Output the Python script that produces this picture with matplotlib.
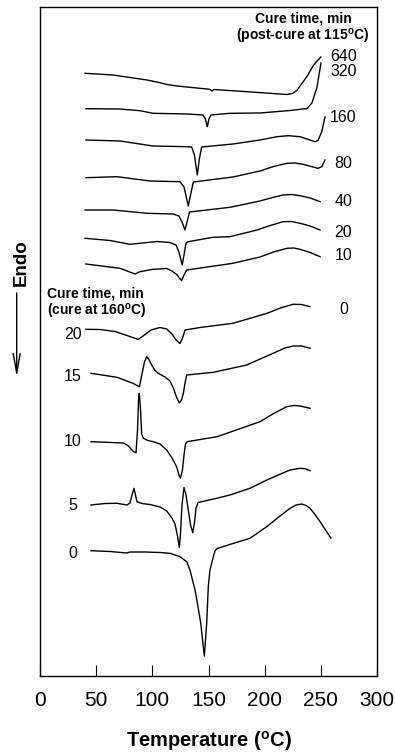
import matplotlib
matplotlib.use("Agg")
import matplotlib.pyplot as plt

plt.rcParams['font.family'] = ['Liberation Sans', 'DejaVu Sans']
plt.rcParams['mathtext.fontset'] = 'custom'
plt.rcParams['mathtext.rm'] = 'Liberation Sans'
plt.rcParams['mathtext.bf'] = 'Liberation Sans:bold'

# ---------------- data (temperature in degC, signal in arbitrary offset units) ----------------
# post-cure at 115 C series
temp_640 = [40.1, 65.0, 95.3, 106.8, 113.1, 122.0, 151.3, 153.1, 154.9, 184.3, 219.9, 225.2, 229.0, 234.1, 238.5, 243.0, 247.5, 250.1]
sig_640 = [602.7, 601, 596, 593.3, 591.5, 590, 586.7, 585, 586.5, 584.3, 581.5, 582.7, 586, 594, 601, 610, 616, 619]

temp_320 = [40.9, 71.2, 89.0, 100.6, 130.9, 145.1, 147.3, 148.9, 150.4, 152.2, 169.1, 195.8, 222.6, 237.7, 242.1, 246.6, 250.1]
sig_320 = [567.3, 567, 565.3, 562.7, 562, 561, 557, 549.3, 557, 561, 562.7, 563, 565.5, 567.5, 573, 589, 613]

temp_160 = [40.9, 71.2, 100.6, 130.9, 135.0, 137.5, 140.0, 142.0, 143.9, 171.8, 195.8, 211.0, 221.0, 231.5, 244.8, 247.5, 250.8, 253.7]
sig_160 = [536, 535, 530, 529.3, 529, 521, 501, 518, 529, 532, 536, 539.3, 540.3, 539.3, 534.3, 535.5, 544.3, 559]

temp_80 = [40.9, 68.5, 97.9, 124.6, 128.2, 130.4, 132.0, 134.0, 136.5, 171.8, 195.8, 208.0, 219.9, 227.0, 234.1, 247.5, 250.8, 253.7]
sig_80 = [498.3, 499.3, 495, 494.3, 489, 478, 470, 481, 494, 499, 505, 509.5, 512.7, 513, 511.7, 507.7, 509.3, 516]

temp_40 = [40.1, 65.0, 95.3, 118.4, 123.7, 126.4, 129.1, 130.9, 133.1, 169.1, 195.8, 207.0, 216.3, 224.0, 231.5, 240.5, 249.3]
sig_40 = [466, 466, 462.7, 462, 460, 454, 446, 454, 464, 468.7, 475, 478.5, 481, 481.5, 480.3, 478, 474.3]

temp_20 = [40.1, 62.3, 80.1, 104.2, 115.7, 121.1, 123.7, 126.6, 128.2, 130.0, 132.0, 154.0, 169.1, 193.2, 205.0, 216.3, 224.0, 231.5, 240.5, 249.3]
sig_20 = [437.7, 435.5, 431.7, 434.5, 433.5, 431, 424, 411, 421, 433, 434.3, 438.7, 439.3, 446, 450.5, 454.3, 454.5, 452.7, 450, 446]

temp_10 = [40.9, 71.2, 84.6, 89.0, 100.6, 112.8, 117.5, 121.7, 126.0, 128.2, 130.6, 171.8, 195.8, 208.0, 219.9, 226.0, 231.5, 240.5, 249.3]
sig_10 = [412, 407.7, 402, 404.3, 406.7, 407.5, 405, 401.5, 395.3, 401, 406, 412.7, 419, 424, 427.7, 428, 426.7, 423.5, 419.3]

# cure at 160 C series
temp_c20 = [40.9, 53.4, 66.8, 77.4, 87.5, 91.7, 98.8, 106.8, 112.8, 117.5, 121.1, 124.6, 126.9, 129.1, 142.4, 171.8, 202.1, 214.0, 225.2, 233.0, 240.4]
sig_c20 = [346.7, 346.5, 344.5, 340.5, 336.5, 340, 346, 348.5, 347, 342, 336, 332.5, 338, 346, 348.5, 352.7, 362.7, 368, 371.7, 371.5, 369.3]

temp_c15 = [45.4, 68.5, 82.8, 88.5, 90.8, 93.0, 95.0, 97.0, 99.4, 102.4, 105.3, 111.3, 115.7, 118.7, 121.5, 124.0, 126.0, 127.6, 129.1, 130.6, 154.3, 184.0, 210.7, 218.0, 225.5, 233.0, 240.4]
sig_c15 = [302.7, 298.7, 292.7, 289.3, 302, 314, 319.3, 316.5, 311, 305.5, 302.7, 299, 295, 288, 279, 273, 276, 282.7, 293, 301, 303.7, 311, 324.3, 328, 330, 330, 327.7]

temp_c10 = [45.4, 74.2, 78.3, 83.1, 85.5, 86.8, 87.7, 88.4, 89.5, 90.5, 92.0, 96.1, 100.9, 106.8, 112.8, 117.5, 121.7, 123.7, 125.0, 126.8, 128.2, 129.5, 130.9, 157.6, 195.8, 208.0, 219.6, 226.0, 231.5, 240.4]
sig_c10 = [234.3, 233, 230.5, 224.5, 223.3, 246, 276, 282.7, 266, 242, 237.7, 235.5, 234.3, 232, 226, 218, 209, 201, 197.7, 206, 221, 232, 234.3, 239.3, 254.3, 262.5, 269.3, 270.5, 270, 267.7]

temp_c5 = [45.4, 57.9, 68.5, 77.4, 80.1, 81.9, 83.7, 85.0, 86.3, 90.8, 97.9, 106.8, 112.8, 117.5, 120.2, 122.4, 124.0, 125.0, 126.4, 128.2, 130.0, 132.0, 134.0, 136.0, 137.6, 138.9, 140.7, 157.3, 169.1, 186.9, 198.8, 211.0, 222.6, 231.5, 236.0, 240.4]
sig_c5 = [171, 172.5, 172.7, 171, 173, 181, 187.7, 181, 174.3, 172.5, 171.5, 169, 165, 158, 152, 140, 128.7, 141, 171, 188.5, 181, 166, 151, 143.3, 154, 168, 173.5, 177.7, 181, 187.7, 194.3, 200.5, 206, 207.7, 207.3, 205.3]

temp_c0 = [45.4, 62.3, 77.2, 80.1, 93.5, 106.8, 115.7, 124.6, 130.6, 133.5, 138.0, 140.9, 143.1, 144.7, 146.3, 147.3, 148.4, 149.1, 149.8, 151.3, 154.3, 155.8, 157.6, 171.8, 186.9, 201.8, 213.7, 222.6, 228.0, 233.0, 237.0, 240.4, 244.5, 249.3, 259.0]
sig_c0 = [125.3, 124.5, 123, 124, 124, 123.5, 122.7, 119.3, 114.3, 106, 86, 67.7, 52.7, 36, 20, 36, 52.7, 71, 89.3, 106, 119.3, 125, 127.5, 132.5, 137.7, 149.3, 160, 167.7, 171, 172, 170.5, 167.7, 162, 154.3, 137.7]

post_labels = ['640', '320', '160', '80', '40', '20', '10', '0']
cure_labels = ['20', '15', '10', '5', '0']
x_ticks = [0, 50, 100, 150, 200, 250, 300]

# ---------------- figure ----------------
W, H = 395, 752
fig = plt.figure(figsize=(W / 100, H / 100), dpi=100)
ax = fig.add_axes([40 / W, 1 - 676 / H, 337 / W, 669 / H])

curves = [(temp_640, sig_640), (temp_320, sig_320), (temp_160, sig_160), (temp_80, sig_80),
          (temp_40, sig_40), (temp_20, sig_20), (temp_10, sig_10),
          (temp_c20, sig_c20), (temp_c15, sig_c15), (temp_c10, sig_c10),
          (temp_c5, sig_c5), (temp_c0, sig_c0)]
for t, s in curves:
    ax.plot(t, s, color='black', lw=1.0, solid_joinstyle='round')

ax.set_xlim(0, 300)
ax.set_ylim(0, 669)
ax.set_xticks(x_ticks)
ax.set_xticklabels([str(v) for v in x_ticks])
ax.set_yticks([])
ax.tick_params(axis='x', direction='in', length=8, width=0.8, pad=10.5, labelsize=15)
for sp in ax.spines.values():
    sp.set_linewidth(1.0)

# right-hand labels (post-cure series)
post_y = [619.3, 604.3, 558.7, 512.7, 474.3, 443.7, 421, 366]
for lab, yy in zip(post_labels, post_y):
    ax.text(270.2, yy, lab, ha='center', va='center', fontsize=11.5)

# left-hand labels (cure at 160 C series)
cure_y = [341.7, 299.3, 234.3, 171, 123]
for lab, yy in zip(cure_labels, cure_y):
    ax.text(29.4, yy, lab, ha='center', va='center', fontsize=11.5)

ax.text(234.1, 657.7, 'Cure time, min', ha='center', va='center', fontsize=10, fontweight='bold')
ax.text(234.1, 639.3, r'(post-cure at 115$^{\mathbf{o}}$C)', ha='center', va='center',
        fontsize=10, fontweight='bold')
ax.text(6.2, 382.7, 'Cure time, min', ha='left', va='center', fontsize=10, fontweight='bold')
ax.text(6.2, 364.3, r'(cure at 160$^{\mathbf{o}}$C)', ha='left', va='center',
        fontsize=10, fontweight='bold')

ax.set_xlabel(r'Temperature ($\mathbf{^o}$C)', fontsize=14.5, fontweight='bold', labelpad=14)

fig.text(21 / W, 1 - 263 / H, 'Endo', rotation=90, ha='center', va='center',
         fontsize=13.5, fontweight='bold')
fig.add_artist(matplotlib.patches.FancyArrowPatch(
    (16.7 / W, 1 - 293 / H), (16.7 / W, 1 - 377 / H), transform=fig.transFigure,
    arrowstyle='->,head_length=1.4,head_width=0.25', mutation_scale=10, lw=1.0,
    color='black', shrinkA=0, shrinkB=0))

fig.savefig('out.png', dpi=100)
